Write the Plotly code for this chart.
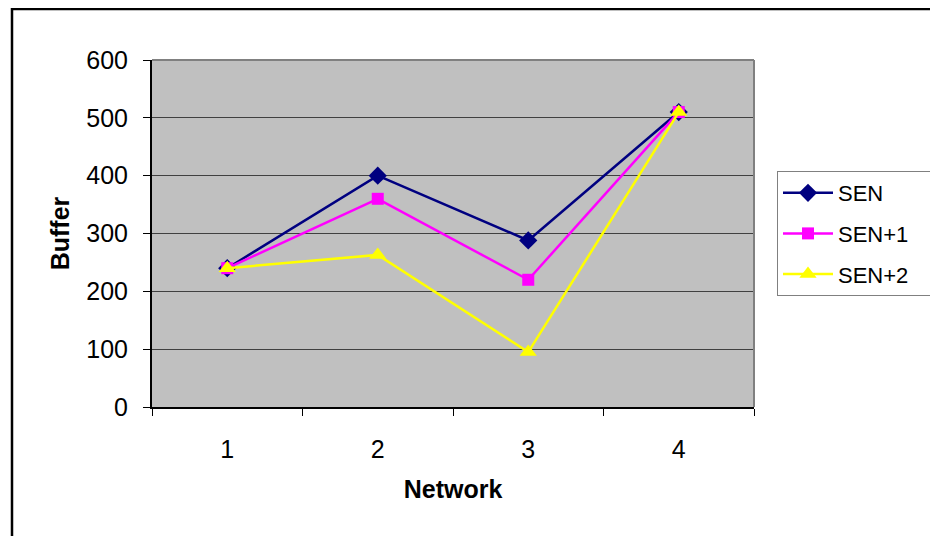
import plotly.graph_objects as go

categories = ["1", "2", "3", "4"]
sen = [240, 400, 288, 510]
sen1 = [240, 360, 220, 510]
sen2 = [240, 263, 95, 510]
y_ticks = [0, 100, 200, 300, 400, 500, 600]

FONT = "Liberation Sans, Arial, sans-serif"
PAD = "\u00a0" * 4

fig = go.Figure()
series = [
    ("SEN", sen, "#000080", "diamond", 14),
    ("SEN+1", sen1, "#FF00FF", "square", 12),
    ("SEN+2", sen2, "#FFFF00", "triangle-up", 15),
]
for i, (name, vals, color, sym, size) in enumerate(series):
    fig.add_trace(go.Scatter(
        x=categories, y=vals, name=name + PAD, mode="lines+markers",
        line=dict(color=color, width=2.5),
        marker=dict(symbol=sym, size=size, color=color, line=dict(width=0)),
        legendgroup="g%d" % i,
    ))

# page has an 8px body margin, so work in page coordinates and offset
OFF = 8
L, R, T, B = 152 - OFF, 754 - OFF, 60 - OFF, 407 - OFF
W, H = 938 - OFF, 536 - OFF
pw, ph = R - L, B - T

def px(x):
    return (x - OFF - L) / pw

def py(y):
    return (B - (y - OFF)) / ph

fig.update_layout(
    width=W, height=H,
    margin=dict(l=L, r=W - R, t=T, b=H - B, pad=0, autoexpand=False),
    paper_bgcolor="white",
    plot_bgcolor="#C0C0C0",
    font=dict(family=FONT, size=25, color="black"),
    showlegend=True,
    legend=dict(
        x=px(777), y=py(171), xanchor="left", yanchor="top",
        bordercolor="#808080", borderwidth=1, bgcolor="white",
        font=dict(family=FONT, size=22, color="black"),
        tracegroupgap=9, itemwidth=50,
    ),
    xaxis=dict(
        type="category", range=[-0.5, 3.5],
        tickson="boundaries", ticks="outside", ticklen=7, tickcolor="black",
        showline=True, linecolor="black", linewidth=2,
        showgrid=False, zeroline=False,
        ticklabelstandoff=19,
        title=dict(text="<b>Network</b>", font=dict(family=FONT, size=25), standoff=18),
    ),
    yaxis=dict(
        range=[0, 600], tickvals=y_ticks, ticks="outside", ticklen=7, tickcolor="black",
        showline=True, linecolor="black", linewidth=2,
        showgrid=True, gridcolor="#404040", gridwidth=1, zeroline=False,
        ticklabelstandoff=10,
        title=dict(text="<b>Buffer</b>", font=dict(family=FONT, size=25), standoff=10),
    ),
    shapes=[
        dict(type="line", xref="paper", yref="paper", x0=0, x1=1, y0=1, y1=1,
             line=dict(color="#808080", width=2)),
        dict(type="line", xref="paper", yref="paper", x0=1, x1=1, y0=0, y1=1,
             line=dict(color="#808080", width=2)),
        dict(type="rect", xref="paper", yref="paper",
             x0=px(12), x1=px(960), y0=py(9), y1=py(560),
             line=dict(color="black", width=2.5), layer="below"),
    ],
)

fig.write_html("out.html")
